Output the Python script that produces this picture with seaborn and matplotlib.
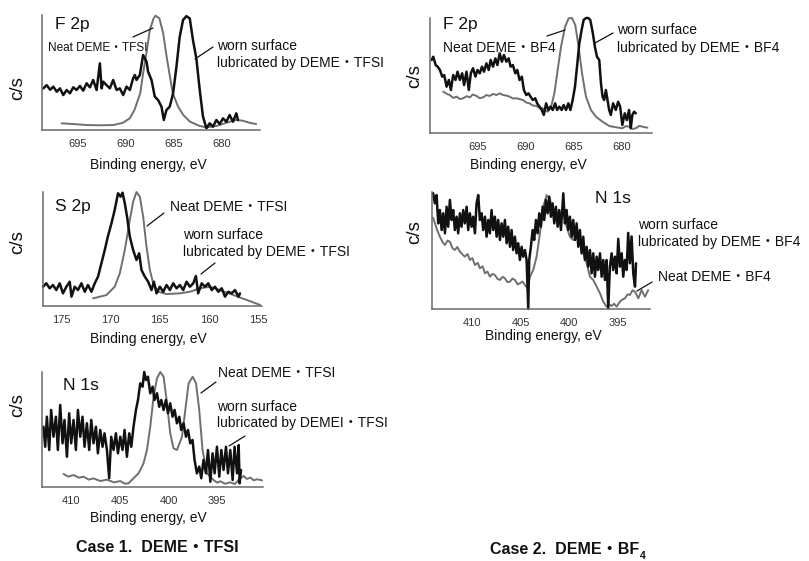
import numpy as np
import pandas as pd
import matplotlib
matplotlib.use("Agg")
import matplotlib.pyplot as plt
from matplotlib import font_manager
from matplotlib.lines import Line2D
import seaborn as sns

# ---------------- spectra (binding energy in eV, intensity in c/s, a.u.) ----------------
# Case 1, F 2p
f2p_tfsi_worn_be = [698.61, 698.26, 697.90, 697.57, 697.21, 696.88, 696.53, 696.18, 695.83, 695.49,
                    695.14, 694.79, 694.45, 694.09, 693.75, 693.41, 693.05, 692.71, 692.53, 692.36,
                    692.01, 691.67, 691.32, 690.97, 690.63, 690.28, 689.93, 689.58, 689.24, 689.06,
                    688.89, 688.54, 688.20, 687.84, 687.68, 687.32, 686.98, 686.64, 686.28, 686.04,
                    685.76, 685.42, 685.07, 684.72, 684.38, 684.03, 683.68, 683.33, 682.99, 682.64,
                    682.29, 681.95, 681.59, 681.25, 680.91, 680.55, 680.21, 679.86, 679.51, 679.17,
                    678.82, 678.47, 678.30]
f2p_tfsi_worn_cps = [36.2, 39.0, 35.0, 37.7, 33.3, 36.2, 30.4, 34.8, 31.9, 37.1,
                     34.8, 38.3, 34.2, 40.6, 37.1, 43.5, 34.8, 58.0, 36.2, 42.0,
                     39.0, 36.2, 43.5, 34.8, 36.2, 30.4, 37.7, 34.8, 45.0, 47.8,
                     43.5, 47.8, 65.2, 59.4, 50.7, 43.5, 29.0, 26.1, 20.3, 8.7,
                     17.4, 20.3, 31.9, 55.0, 81.0, 95.7, 99.0, 97.0, 78.0, 62.0,
                     34.8, 11.6, 1.5, 5.8, 2.9, 8.7, 5.2, 10.1, 7.2, 13.0,
                     7.2, 14.5, 8.7]
f2p_tfsi_neat_be = [696.7, 695.5, 694.1, 692.7, 691.3, 690.3, 689.6, 689.1, 688.5, 688.2,
                    687.8, 687.5, 687.1, 686.9, 686.5, 686.1, 685.8, 685.4, 685.1, 684.55,
                    684.0, 683.3, 682.3, 681.6, 680.55, 679.5, 678.5, 677.8, 677.1, 676.4]
f2p_tfsi_neat_cps = [5.8, 5.2, 4.3, 4.1, 4.3, 6.3, 10.1, 17.4, 31.9, 49.3,
                     69.6, 87.0, 97.1, 99.4, 97.1, 84.0, 66.7, 46.4, 31.9, 20.3,
                     13.0, 7.2, 3.5, 2.3, 3.5, 6.3, 8.7, 8.1, 6.3, 5.2]

# Case 1, S 2p
s2p_tfsi_worn_be = [176.9, 176.56, 176.22, 175.89, 175.54, 175.2, 174.87, 174.52, 174.18, 174.0,
                    173.67, 173.34, 172.99, 172.65, 172.32, 171.97, 171.63, 171.3, 170.95, 170.61,
                    170.3, 169.93, 169.6, 169.26, 169.0, 168.8, 168.57, 168.34, 168.06, 167.72,
                    167.38, 167.11, 166.87, 166.53, 166.19, 165.85, 165.61, 165.34, 165.0, 164.66,
                    164.32, 163.98, 163.64, 163.3, 162.96, 162.62, 162.28, 161.94, 161.6, 161.33,
                    161.1, 160.74, 160.41, 160.07, 159.72, 159.39, 159.05, 158.7, 158.37, 158.03,
                    157.68, 157.35, 157.0, 156.84]
s2p_tfsi_worn_cps = [16.9, 19.9, 15.5, 18.4, 14.0, 19.9, 11.1, 16.9, 21.3, 8.2,
                     16.9, 14.0, 19.9, 12.5, 18.4, 12.5, 19.9, 25.7, 37.5, 49.1,
                     60.8, 72.5, 84.2, 98.9, 95.9, 99.4, 90.1, 78.3, 60.8, 49.1,
                     40.4, 46.2, 31.6, 25.7, 21.3, 14.0, 21.3, 11.1, 16.9, 12.5,
                     18.4, 14.0, 19.9, 15.5, 18.4, 14.0, 21.3, 16.9, 19.9, 26.3,
                     11.1, 19.9, 16.9, 19.9, 14.0, 16.9, 12.5, 15.5, 8.2, 12.5,
                     11.1, 14.0, 8.2, 11.1]
s2p_tfsi_neat_be = [171.8, 170.44, 169.6, 169.08, 168.57, 168.06, 167.72, 167.38, 167.04, 166.7,
                    166.36, 166.02, 165.68, 165.17, 164.32, 162.96, 161.94, 160.92, 159.9, 158.88,
                    157.52, 156.15, 154.8]
s2p_tfsi_neat_cps = [6.7, 9.6, 16.9, 28.7, 49.1, 75.4, 91.5, 100.0, 95.9, 78.3,
                     52.0, 31.6, 19.9, 12.5, 10.5, 11.1, 12.5, 15.5, 16.9, 14.0,
                     9.6, 5.3, 0.9]

# Case 1, N 1s
n1s_tfsi_worn_be = [412.85, 412.67, 412.5, 412.26, 412.06, 411.82, 411.57, 411.37, 411.13, 410.89,
                    410.69, 410.44, 410.21, 410.0, 409.76, 409.52, 409.31, 409.07, 408.84, 408.63,
                    408.39, 408.15, 407.94, 407.71, 407.46, 407.26, 407.02, 406.78, 406.58, 406.33,
                    406.1, 405.89, 405.65, 405.41, 405.2, 404.96, 404.73, 404.52, 404.28, 404.04,
                    403.83, 403.6, 403.35, 403.14, 402.91, 402.67, 402.5, 402.32, 402.12, 401.88,
                    401.64, 401.44, 401.19, 400.96, 400.75, 400.51, 400.27, 400.06, 399.83, 399.59,
                    399.38, 399.14, 398.9, 398.7, 398.46, 398.21, 398.0, 397.78, 397.54, 397.33,
                    397.09, 396.85, 396.64, 396.41, 396.16, 395.95, 395.71, 395.48, 395.27, 395.03,
                    394.79, 394.58, 394.35, 394.1, 393.9, 393.66, 393.42, 393.22, 392.97, 392.8,
                    392.7, 392.56]
n1s_tfsi_worn_cps = [52.4, 35.0, 61.1, 32.2, 67.0, 43.7, 61.1, 32.2, 71.3, 38.0,
                     58.3, 26.3, 64.1, 38.0, 58.3, 32.2, 67.0, 43.7, 61.1, 35.0,
                     55.4, 32.2, 58.3, 38.0, 52.4, 29.3, 49.6, 35.0, 46.7, 32.2,
                     7.6, 43.7, 32.2, 46.7, 29.3, 43.7, 32.2, 49.6, 26.3, 46.7,
                     35.0, 52.4, 67.0, 75.7, 90.2, 87.2, 100.0, 93.0, 95.9, 81.5,
                     87.2, 75.7, 81.5, 69.8, 75.7, 67.0, 75.7, 64.1, 72.8, 61.1,
                     67.0, 55.4, 61.1, 49.6, 55.4, 43.7, 49.6, 38.0, 40.9, 23.5,
                     11.9, 17.7, 7.6, 23.5, 11.9, 32.2, 4.6, 29.3, 11.9, 35.0,
                     9.0, 32.2, 14.8, 35.0, 11.9, 32.2, 6.1, 35.0, 11.9, 36.5,
                     3.2, 14.8]
n1s_tfsi_neat_be = [410.79, 410.3, 409.76, 409.2, 408.73, 408.2, 407.71, 407.0, 406.33, 405.6,
                    404.96, 404.5, 404.11, 403.6, 403.08, 402.57, 402.22, 401.88, 401.54, 401.19,
                    400.85, 400.51, 400.16, 399.83, 399.49, 399.14, 398.62, 398.28, 397.94, 397.53,
                    397.18, 396.85, 396.51, 396.05, 395.38, 395.0, 394.69, 394.2, 393.66, 393.2,
                    392.8, 392.5, 392.29, 391.95, 391.6, 391.25, 390.91, 390.4]
n1s_tfsi_neat_cps = [11.3, 9.0, 10.4, 8.1, 9.0, 6.4, 7.5, 5.2, 6.4, 4.0,
                     5.2, 2.9, 3.2, 7.6, 11.9, 20.6, 32.2, 52.4, 78.5, 94.5,
                     100.0, 95.9, 72.8, 46.7, 33.6, 32.2, 43.7, 67.0, 90.2, 95.9,
                     90.2, 67.0, 32.2, 11.9, 6.1, 3.8, 5.0, 2.9, 4.0, 2.6,
                     6.1, 8.4, 9.6, 7.0, 8.2, 5.8, 6.7, 5.8]

# Case 2, F 2p
f2p_bf4_worn_be = [699.79, 699.62, 699.37, 699.17, 698.93, 698.69, 698.48, 698.24, 698.0, 697.79,
                   697.55, 697.31, 697.1, 696.86, 696.62, 696.42, 696.17, 695.93, 695.72, 695.49,
                   695.24, 695.03, 694.79, 694.56, 694.35, 694.1, 693.86, 693.66, 693.42, 693.17,
                   692.96, 692.72, 692.49, 692.28, 692.03, 691.79, 691.59, 691.35, 691.1, 690.89,
                   690.66, 690.42, 690.21, 689.96, 689.73, 689.52, 689.28, 689.03, 688.83, 688.59,
                   688.35, 688.14, 687.9, 687.66, 687.45, 687.21, 686.96, 686.76, 686.52, 686.28,
                   686.08, 685.83, 685.59, 685.38, 685.14, 684.9, 684.69, 684.45, 684.21, 684.0,
                   683.76, 683.52, 683.31, 683.07, 682.83, 682.62, 682.38, 682.2, 682.04, 681.87,
                   681.69, 681.52, 681.35, 681.18, 680.94, 680.66, 680.42, 680.21, 679.98, 679.73,
                   679.52, 679.28, 679.11, 678.94, 678.76, 678.59]
f2p_bf4_worn_cps = [63.5, 66.3, 59.1, 57.7, 54.8, 49.0, 50.4, 40.3, 46.1, 37.4,
                    50.4, 46.1, 53.3, 46.1, 51.9, 41.7, 53.3, 37.4, 51.9, 56.3,
                    49.0, 54.8, 51.9, 57.7, 53.3, 60.6, 54.8, 63.5, 57.7, 64.9,
                    59.1, 69.3, 62.0, 67.8, 62.0, 64.9, 57.7, 59.1, 51.9, 54.8,
                    46.1, 49.0, 37.4, 33.0, 34.5, 31.6, 28.7, 30.2, 25.8, 22.9,
                    20.0, 15.7, 25.8, 20.0, 22.9, 20.0, 25.8, 20.0, 22.9, 20.0,
                    24.3, 20.0, 25.8, 20.0, 28.7, 40.3, 57.7, 78.0, 89.6, 98.3,
                    100.0, 100.0, 98.3, 88.0, 75.0, 66.3, 63.5, 43.2, 31.6, 28.7,
                    37.4, 28.7, 20.0, 15.7, 25.8, 20.0, 27.2, 22.9, 7.0, 17.1,
                    11.3, 20.0, 4.1, 15.7, 18.5, 17.1]
f2p_bf4_neat_be = [698.59, 698.2, 697.9, 697.55, 697.2, 696.85, 696.52, 696.15, 695.83, 695.5,
                   695.13, 694.8, 694.45, 694.1, 693.76, 693.4, 693.07, 692.7, 692.38, 692.0,
                   691.69, 691.35, 691.0, 690.65, 690.32, 689.95, 689.62, 689.3, 688.93, 688.6,
                   688.25, 687.95, 687.73, 687.38, 687.04, 686.7, 686.35, 685.93, 685.56, 685.21,
                   684.87, 684.52, 684.17, 683.76, 683.24, 682.72, 682.04, 681.35, 680.66, 679.98,
                   679.6, 679.28, 678.9, 678.59, 678.2, 677.9, 677.38]
f2p_bf4_neat_cps = [35.9, 34.0, 33.0, 30.5, 31.6, 29.5, 30.2, 32.0, 31.0, 33.5,
                    32.2, 30.3, 31.0, 33.0, 32.2, 34.0, 33.0, 34.5, 33.0, 32.5,
                    31.6, 30.0, 30.2, 29.5, 28.7, 26.5, 25.8, 24.0, 23.5, 22.0,
                    21.5, 19.5, 18.5, 22.9, 34.5, 54.8, 75.0, 92.4, 99.7, 100.0,
                    93.9, 75.0, 51.9, 31.6, 20.0, 14.2, 9.8, 6.1, 5.0, 4.1,
                    6.0, 5.5, 3.5, 4.1, 6.2, 5.5, 4.6]

# Case 2, N 1s
n1s_bf4_worn_be = [413.98, 413.8, 413.63, 413.46, 413.29, 413.11, 412.95, 412.77, 412.6, 412.44,
                   412.26, 412.09, 411.92, 411.75, 411.57, 411.41, 411.23, 411.06, 410.89, 410.72,
                   410.54, 410.38, 410.21, 410.03, 409.87, 409.69, 409.52, 409.35, 409.18, 409.0,
                   408.84, 408.66, 408.49, 408.32, 408.15, 407.98, 407.81, 407.64, 407.46, 407.3,
                   407.12, 406.95, 406.78, 406.61, 406.43, 406.27, 406.09, 405.92, 405.76, 405.58,
                   405.41, 405.24, 405.07, 404.89, 404.73, 404.55, 404.38, 404.21, 404.11, 403.94,
                   403.76, 403.6, 403.42, 403.25, 403.08, 402.91, 402.73, 402.57, 402.39, 402.22,
                   402.05, 401.88, 401.71, 401.54, 401.37, 401.19, 401.03, 400.85, 400.61, 400.44,
                   400.27, 400.1, 399.93, 399.75, 399.59, 399.41, 399.24, 399.07, 398.9, 398.73,
                   398.56, 398.39, 398.21, 398.05, 397.87, 397.7, 397.53, 397.36, 397.18, 397.02,
                   396.84, 396.67, 396.5, 396.33, 396.16, 395.99, 395.82, 395.64, 395.48, 395.3,
                   395.13, 394.96, 394.79, 394.61, 394.45, 394.28, 394.1, 393.94, 393.76, 393.59,
                   393.42, 393.24, 393.14]
n1s_bf4_worn_cps = [98.9, 90.3, 97.4, 73.2, 84.6, 67.5, 81.8, 64.7, 87.4, 70.3,
                    93.2, 76.1, 84.6, 67.5, 78.9, 64.7, 81.8, 70.3, 84.6, 73.2,
                    87.4, 67.5, 81.8, 70.3, 78.9, 64.7, 90.3, 97.4, 76.1, 81.8,
                    67.5, 78.9, 61.8, 76.1, 64.7, 84.6, 67.5, 78.9, 61.8, 76.1,
                    59.0, 73.2, 61.8, 76.1, 56.2, 70.3, 53.2, 67.5, 50.4, 61.8,
                    47.6, 56.2, 41.9, 53.2, 44.7, 50.4, 41.9, 0.0, 41.9, 53.2,
                    67.5, 59.0, 76.1, 64.7, 81.8, 70.3, 87.4, 76.1, 93.2, 81.8,
                    96.0, 78.9, 90.3, 73.2, 87.4, 70.3, 84.6, 67.5, 98.9, 73.2,
                    84.6, 67.5, 78.9, 61.8, 76.1, 59.0, 73.2, 53.2, 67.5, 47.6,
                    61.8, 41.9, 53.2, 36.2, 50.4, 30.5, 47.6, 27.6, 44.7, 33.3,
                    47.6, 27.6, 41.9, 24.8, 41.9, 0.6, 36.2, 47.6, 33.3, 44.7,
                    30.5, 60.0, 36.2, 47.6, 27.6, 41.9, 33.3, 65.0, 39.1, 62.0,
                    30.5, 19.1, 39.1]
n1s_bf4_neat_be = [413.98, 413.6, 413.29, 413.0, 412.77, 412.5, 412.26, 412.0, 411.75, 411.5,
                   411.23, 410.95, 410.72, 410.45, 410.21, 409.95, 409.69, 409.4, 409.18, 408.9,
                   408.66, 408.4, 408.15, 407.9, 407.64, 407.4, 407.12, 406.85, 406.61, 406.35,
                   406.09, 405.85, 405.58, 405.3, 405.07, 404.8, 404.55, 404.28, 404.04, 403.7,
                   403.35, 403.01, 402.67, 402.32, 401.98, 401.64, 401.29, 400.95, 400.61, 400.27,
                   399.93, 399.59, 399.24, 398.9, 398.56, 398.21, 397.87, 397.53, 397.18, 396.84,
                   396.5, 396.16, 395.9, 395.64, 395.4, 395.13, 394.79, 394.55, 394.28, 394.0,
                   393.76, 393.5, 393.24, 392.9, 392.56, 392.22, 391.88]
n1s_bf4_neat_cps = [78.0, 68.0, 61.8, 57.0, 54.7, 58.5, 57.5, 52.0, 50.4, 53.0,
                    49.0, 46.5, 44.7, 47.0, 41.9, 43.5, 37.6, 39.5, 34.8, 36.5,
                    30.5, 32.0, 27.6, 30.0, 29.1, 26.0, 24.8, 27.5, 26.2, 23.0,
                    23.3, 26.0, 24.8, 21.0, 22.0, 23.5, 20.5, 17.7, 27.6, 33.3,
                    44.7, 64.7, 87.4, 97.4, 93.2, 84.6, 81.8, 78.9, 81.8, 70.3,
                    61.8, 59.0, 60.4, 59.0, 47.6, 39.1, 27.6, 24.8, 19.1, 13.4,
                    6.2, 2.0, 4.0, 2.6, 4.5, 2.0, 6.2, 8.0, 9.1, 12.5,
                    12.0, 16.0, 14.8, 9.1, 16.2, 10.5, 16.2]

f2p_ticks = [695, 690, 685, 680]
s2p_ticks = [175, 170, 165, 160, 155]
n1s_ticks = [410, 405, 400, 395]

# ---------------- styling ----------------
sns.set_style("white")


def installed(name):
    try:
        font_manager.findfont(font_manager.FontProperties(family=name),
                              fallback_to_default=False)
        return True
    except Exception:
        return False


BASE = "Liberation Sans"
NARROW = "Liberation Sans Narrow" if installed("Liberation Sans Narrow") else BASE
JP = "Noto Sans CJK JP"
plt.rcParams["font.family"] = [BASE, JP, "DejaVu Sans"]

W, H = 809, 561
fig = plt.figure(figsize=(W / 100, H / 100), dpi=100)
fig.patch.set_facecolor("white")

WORN = "#111111"
NEAT = "#6f6f6f"
SPINE = "#6a6a6a"


def box(x0, y0, x1, y1):
    return [x0 / W, 1 - y1 / H, (x1 - x0) / W, (y1 - y0) / H]


def fx(x):
    return x / W


def fy(y):
    return 1 - y / H


def panel(rect, xlim, ticks, neat, worn):
    ax = fig.add_axes(rect)
    nb, nc = neat
    wb, wc = worn
    sns.lineplot(x=nb, y=nc, ax=ax, color=NEAT, linewidth=1.4, sort=False,
                 estimator=None, legend=False, clip_on=False)
    sns.lineplot(x=wb, y=wc, ax=ax, color=WORN, linewidth=1.8, sort=False,
                 estimator=None, legend=False, clip_on=False)
    ax.set_xlim(*xlim)
    ax.set_ylim(0, 100)
    ax.set_yticks([])
    ax.set_xticks(ticks, labels=[str(t) for t in ticks], fontfamily=NARROW, fontsize=8,
                  color="#333333")
    ax.tick_params(axis="x", direction="out", length=3.5, width=0.9, color=SPINE, pad=3)
    for side in ("top", "right"):
        ax.spines[side].set_visible(False)
    for side in ("left", "bottom"):
        ax.spines[side].set_color(SPINE)
        ax.spines[side].set_linewidth(1.1)
    ax.set_xlabel("")
    ax.set_ylabel("")
    ax.patch.set_alpha(0)
    return ax


panel(box(42, 15, 260, 130), (698.75, 676.0), f2p_ticks,
      (f2p_tfsi_neat_be, f2p_tfsi_neat_cps), (f2p_tfsi_worn_be, f2p_tfsi_worn_cps))
panel(box(43, 192, 262, 306), (176.9, 154.6), s2p_ticks,
      (s2p_tfsi_neat_be, s2p_tfsi_neat_cps), (s2p_tfsi_worn_be, s2p_tfsi_worn_cps))
panel(box(42, 372, 263, 487), (413.0, 390.3), n1s_ticks,
      (n1s_tfsi_neat_be, n1s_tfsi_neat_cps), (n1s_tfsi_worn_be, n1s_tfsi_worn_cps))
panel(box(430, 18, 652, 133), (699.96, 676.9), f2p_ticks,
      (f2p_bf4_neat_be, f2p_bf4_neat_cps), (f2p_bf4_worn_be, f2p_bf4_worn_cps))
panel(box(432, 192, 650, 309), (414.1, 391.7), n1s_ticks,
      (n1s_bf4_neat_be, n1s_bf4_neat_cps), (n1s_bf4_worn_be, n1s_bf4_worn_cps))


def label(x, y, s, size=10, **kw):
    fig.text(fx(x), fy(y), s, fontsize=size, ha=kw.pop("ha", "left"),
             va=kw.pop("va", "center"), color="#111111", **kw)


def leader(x0, y0, x1, y1):
    fig.add_artist(Line2D([fx(x0), fx(x1)], [fy(y0), fy(y1)], transform=fig.transFigure,
                          color="#111111", linewidth=0.9))


# y-axis labels
for x, y in [(18, 88), (18, 242), (18, 405), (415, 76), (415, 232)]:
    label(x, y, "c/s", size=13.5, ha="center", rotation=90)

# x-axis labels
for x, y in [(148, 165), (148, 339), (148, 518), (528, 165), (543, 336)]:
    label(x, y, "Binding energy, eV", size=10, ha="center")

# Case 1, F 2p
label(55, 24, "F 2p", size=12.5)
label(48, 48, "Neat DEME・TFSI", size=8.5)
leader(133, 37, 153, 28)
label(217, 46, "worn surface", size=10)
label(217, 63, "lubricated by DEME・TFSI", size=10)
leader(213, 47, 195, 59)

# Case 1, S 2p
label(55, 207, "S 2p", size=12.5)
label(170, 207, "Neat DEME・TFSI", size=10)
leader(164, 213, 147, 226)
label(183, 235, "worn surface", size=10)
label(183, 252, "lubricated by DEME・TFSI", size=10)
leader(215, 263, 201, 274)

# Case 1, N 1s
label(63, 385, "N 1s", size=12.5)
label(218, 373, "Neat DEME・TFSI", size=10)
leader(216, 382, 201, 393)
label(217, 407, "worn surface", size=10)
label(217, 423, "lubricated by DEMEI・TFSI", size=10)
leader(245, 436, 229, 446)

# Case 2, F 2p
label(443, 25, "F 2p", size=12.5)
label(443, 48, "Neat DEME・BF4", size=10)
leader(547, 36, 565, 30)
label(617, 30, "worn surface", size=10)
label(617, 48, "lubricated by DEME・BF4", size=10)
leader(613, 33, 595, 43)

# Case 2, N 1s
label(595, 198, "N 1s", size=12.5)
label(638, 225, "worn surface", size=10)
label(638, 242, "lubricated by DEME・BF4", size=10)
label(658, 277, "Neat DEME・BF4", size=10)
leader(652, 282, 637, 291)

# case titles
bold_family = [NARROW, JP, "DejaVu Sans"]
fig.text(fx(157), fy(548), "Case 1.  DEME・TFSI", fontsize=11.5, fontweight="bold",
         family=bold_family, ha="center", va="center", color="#111111")
t2 = fig.text(fx(490), fy(549), "Case 2.  DEME・BF", fontsize=11.5, fontweight="bold",
              family=bold_family, ha="left", va="center", color="#111111")
fig.canvas.draw()
bb = t2.get_window_extent()
fig.text(bb.x1 / W + 0.0005, (bb.y0 + 0.5) / H, "4", fontsize=7.5, fontweight="bold",
         family=bold_family, ha="left", va="center", color="#111111")

fig.savefig("out.png", dpi=100, facecolor="white")
